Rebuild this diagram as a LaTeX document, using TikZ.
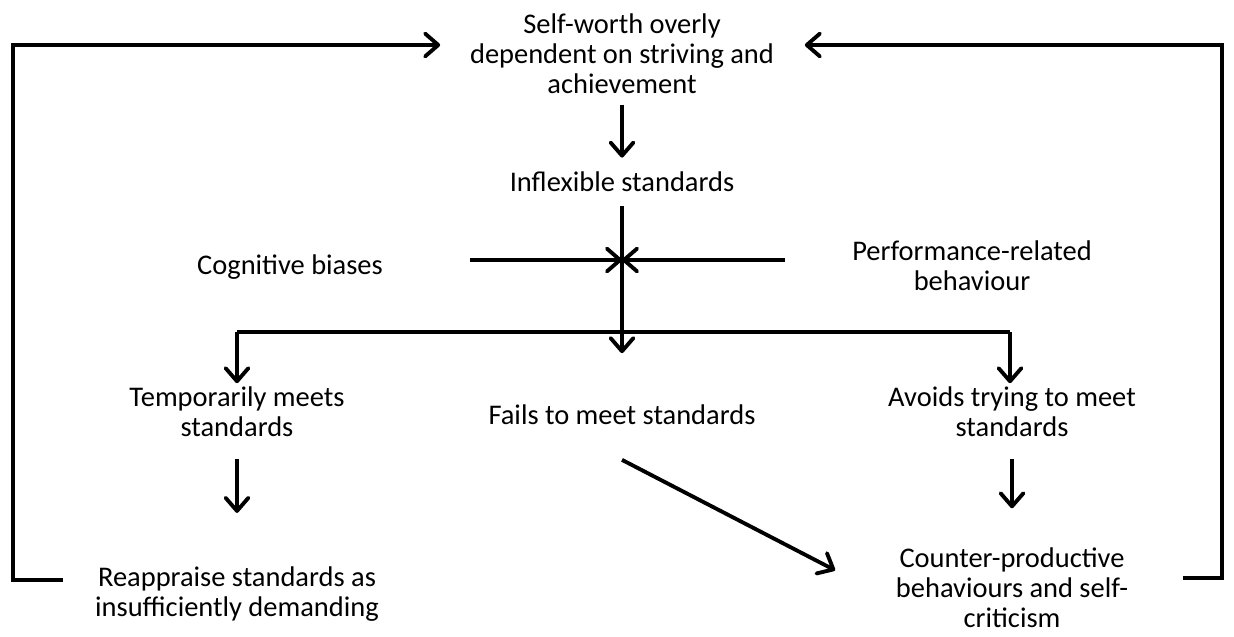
\documentclass[tikz,border=0pt]{standalone}
\usepackage{fontspec}
\setmainfont{Carlito}
\usetikzlibrary{arrows.meta}
\tikzset{
  txt/.style={align=center, font=\fontsize{16.2}{17}\selectfont, inner sep=2pt},
  ln/.style={line width=2.2pt},
  arr/.style={line width=2.2pt, -{Straight Barb[length=7.5pt,width=13pt,round]}},
}
\begin{document}
\begin{tikzpicture}[x=0.02cm, y=-0.02cm]
\useasboundingbox (0,0) rectangle (1234,636);
\node[txt] (self) at (622,54) {Self-worth overly\\dependent on striving and\\achievement};
\node[txt] (infl) at (622,182) {Inflexible standards};
\node[txt] (cog) at (290,267) {Cognitive biases};
\node[txt] (perf) at (972,266) {Performance-related\\behaviour};
\node[txt] (temp) at (237,412) {Temporarily meets\\standards};
\node[txt] (fail) at (622,415) {Fails to meet standards};
\node[txt] (avoid) at (1012,412) {Avoids trying to meet\\standards};
\node[txt] (reap) at (237,594) {Reappraise standards as\\insufficiently demanding};
\node[txt] (count) at (1012,588) {Counter-productive\\behaviours and self-\\criticism};
% junctions
\coordinate (mid) at (622,260);
\coordinate (split) at (622,332);
\coordinate (sl) at (237,332);
\coordinate (sr) at (1010,332);
% main line
\draw[arr, shorten <=4pt, shorten >=6pt] (self) -- (infl);
\draw[ln, shorten <=6pt] (infl) -- (split);
\draw[arr, shorten >=0.96cm] (split) -- (fail);
\draw[arr] ([shift={(83,-7)}]cog.east) -- (mid);
\draw[arr] ([shift={(-63,-6)}]perf.west) -- (mid);
\draw[ln] (sl) -- (sr);
\draw[arr] (sl) -- (sl |- temp.north);
\draw[arr] (sr) -- (sr |- avoid.north);
% lower arrows
\draw[arr, shorten <=0.36cm, shorten >=1.0cm] (temp) -- (reap);
\draw[arr, shorten <=0.36cm, shorten >=0.72cm] (avoid) -- (count);
\draw[arr] ([yshift=-0.62cm]fail.south) -- ([shift={(-57,26)}]count.north west);
% feedback loops
\draw[arr] ([shift={(-28,-14)}]reap.west) -- ++(-50,0) |- ([shift={(-26,-9)}]self.west);
\draw[arr] ([shift={(51,-10)}]count.east) -- ++(39,0) |- ([shift={(27,-9)}]self.east);
\end{tikzpicture}
\end{document}
